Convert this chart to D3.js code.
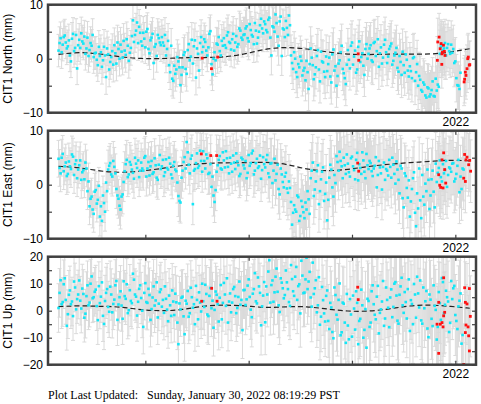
<!DOCTYPE html>
<html>
<head>
<meta charset="utf-8">
<script src="https://cdn.jsdelivr.net/npm/d3@7"></script>
<style>
  body { margin: 0; background: #fff; }
  svg { display: block; }
</style>
</head>
<body>
<svg id="chart" width="481" height="404"></svg>
<script>
// daily-ish solutions: set A every 0.02 yr from tStart, set B offset by half a step
const tStart = 2018.16, tStep = 0.02;

const northVals = [
  1.5, 3.8, 2.6, 4.3, 1.9, 3.4, -0.5, 4.6, 2.0, -1.8,
  3.5, 4.7, 2.8, 0.9, 3.9, 1.6, 2.4, 0.3, 1.1, -1.2,
  0.5, -1.5, 2.2, -3.4, 0.8, -0.6, 1.4, 2.5, -0.9, 1.8,
  2.6, 0.2, 1.5, 3.6, -0.4, 2.0, 7.1, 4.4, 6.7, 5.9,
  3.2, 4.8, 2.1, 5.5, 1.0, 3.9, -0.8, 2.7, 4.4, 3.0,
  4.0, 2.4, 0.6, 3.3, -2.5, -3.7, -1.3, -2.0, -0.5, -4.9,
  -1.6, 1.2, -2.8, 2.7, 0.4, -0.9, 3.4, 1.9, -2.2, 4.0,
  2.2, 3.1, 0.6, 4.6, -1.0, 0.0, -0.3, 2.6, 1.4, 3.3,
  3.8, 2.0, 4.9, 2.9, 3.6, 1.5, 4.2, 2.7, 5.2, 3.5,
  4.5, 6.0, 3.2, 5.3, 4.1, 6.6, 2.8, 5.0, 7.4, 4.7,
  6.4, 4.9, 7.6, 0.6, 5.8, 8.2, 4.1, 6.9, 0.5, 5.4,
  7.0, 4.4, 6.2, -0.8, 1.2, -2.5, -1.0, 0.4, -3.1, -1.7,
  -0.4, -5.6, 1.9, -1.2, -2.9, 0.5, -2.0, 1.3, -0.7, -3.4,
  -2.3, 0.2, -4.4, 1.7, -1.4, -3.2, -0.3, 2.4, -2.7, -4.7,
  1.6, -1.8, 3.0, 0.4, -2.6, 2.2, -0.6, 1.0, -3.0, 2.7,
  0.9, 2.5, -0.6, 3.1, 1.4, -1.5, 2.1, 0.2, 3.5, -0.8,
  1.8, 2.8, -0.4, 1.1, -1.7, 0.5, -3.0, -1.2, 0.8, -2.2,
  -1.4, -3.6, 0.3, -2.5, -5.0, -3.9, -6.1, -4.8, -7.2, -5.5,
  -6.6, -4.2, -7.0, -5.9, -5.2, 2.2, 1.5, 2.9, 2.0, 1.4,
  2.6, 1.8, -0.5, -4.9, -5.6
];
const northVals2 = [
  2.9, 1.2, 4.0, 3.0, 2.3, 0.6, 3.7, 1.4, 4.4, 2.5,
  2.0, 3.2, 4.1, 1.9, 0.5, 2.9, 4.4, 1.0, -0.2, 2.2,
  1.2, -0.3, 0.6, 1.9, -2.0, 0.3, -1.1, 1.0, 3.0, 0.0,
  1.3, 3.3, 0.7, 2.4, 1.1, 4.2, 3.1, 5.2, 2.9, 4.8,
  2.4, 3.7, 5.0, 1.8, 3.4, 4.6, 2.2, 0.5, 3.8, 2.5,
  3.0, 4.4, 1.8, -1.2, 2.4, -4.1, -2.8, 0.3, -1.6, -3.0,
  0.7, -1.9, 1.6, -0.3, 3.5, 2.3, -3.5, 0.9, 2.9, 1.2,
  3.6, 1.5, 2.1, 5.1, -2.9, 1.2, 2.8, 4.0, 0.6, 2.4,
  2.5, 4.3, 3.1, 1.7, 4.6, 3.0, 2.2, 5.6, 3.9, 4.4,
  5.6, 3.8, 6.4, 4.4, 2.7, 5.2, 3.9, 6.2, 5.6, 6.9,
  5.3, 7.2, 3.9, 6.0, 5.0, 6.6, 2.4, 7.8, 5.6, 4.0,
  5.7, 8.0, 0.6, -1.9, 0.0, -3.4, -1.6, -0.4, -2.2, -4.0,
  -2.5, -1.0, 0.2, -3.8, -1.6, 1.6, -4.2, -0.5, -2.4, 0.4,
  -1.0, -3.3, 0.8, -2.2, -5.0, -0.9, 1.2, -1.9, -3.6, -1.1,
  -0.2, 2.4, -1.1, 1.5, -2.0, 3.2, 0.3, -1.3, 1.8, 0.0,
  1.9, -0.3, 2.9, 0.5, 3.6, 1.0, -0.9, 2.6, 1.2, 0.4,
  2.3, -1.1, 0.6, 2.0, -2.4, -0.6, 1.3, -2.6, -0.2, -3.3,
  -2.3, 0.1, -4.1, -1.0, -3.2, -5.8, -4.4, -6.8, -5.3, -7.0,
  -5.8, -6.9, -3.7, -4.8, 0.9, 2.5, 1.9, 0.6, 2.7, 0.9,
  1.1, -0.8, -3.6, -5.0, -2.6
];
const eastVals = [
  4.8, 2.1, 5.7, 3.4, 1.6, 4.3, 2.9, 5.2, 3.8, 1.2,
  3.6, 0.9, 2.7, 4.1, -1.2, -4.0, -2.2, -5.4, -1.0, -2.8,
  -5.9, -6.7, -3.4, 0.4, 2.8, 4.0, 1.5, 3.3, -0.8, -2.6,
  -4.6, -1.8, 2.5, 4.6, 1.9, 3.7, 2.2, 5.0, 3.1, 1.4,
  4.1, 2.6, 5.3, 3.0, 1.7, 4.4, 2.3, 3.6, 0.9, 5.5,
  3.4, 1.6, 4.7, 2.8, 3.9, 1.2, 4.2, 2.5, -2.1, -3.3,
  2.6, 5.1, 7.9, 3.7, 4.8, -3.6, 2.9, 5.8, 3.5, 4.4,
  6.2, 3.0, 4.9, 2.2, -0.4, -2.0, -1.0, 3.6, 5.3, 2.8,
  4.5, 6.2, 3.3, 5.0, 2.4, 4.1, 5.8, 3.6, 2.0, 4.7,
  3.0, 1.2, 5.5, 4.0, 6.3, 2.6, 4.8, 3.4, 1.1, 5.1,
  3.2, 5.5, 1.4, 4.0, 2.6, 0.8, 3.7, -1.8, 1.9, -0.5,
  2.2, -1.5, -0.6, -7.4, -3.8, -5.0, -2.3, -5.8, -4.1, -6.2,
  -4.6, -2.7, 1.2, 4.1, -0.9, 2.5, -3.6, 1.0, 3.2, -1.7,
  -6.6, 1.3, 2.8, -2.2, 0.3, 4.2, 6.1, 3.4, 5.0, 2.0,
  3.9, 1.5, 5.2, 2.7, 4.6, 0.8, 3.1, 6.0, 2.4, 5.7,
  2.9, 4.0, 1.6, 3.5, -0.5, 4.4, 2.1, 3.3, 0.9, 2.6,
  4.6, 1.3, 3.7, 0.2, 2.8, -1.6, 3.0, -4.2, 1.6, -2.4,
  -5.9, -0.8, 2.3, -7.7, -4.4, -2.9, 1.8, -3.7, -1.2, 0.9,
  -2.0, 2.6, -4.2, 0.5, 3.1, 1.4, 3.8, 2.7, -0.4, 3.2,
  2.4, 4.0, 1.1, 3.5, -1.4, -0.8, 2.8
];
const eastVals2 = [
  3.1, 5.0, 2.5, 4.1, 2.0, 3.4, 5.6, 1.8, 4.5, 2.8,
  4.5, 2.3, 1.0, 3.0, 0.6, -2.6, -4.6, -1.3, -3.5, -0.2,
  -4.0, -2.0, -5.0, -1.2, 3.5, 1.9, 4.4, 2.1, -2.0, -3.9,
  -2.2, 0.5, 3.8, 1.4, 4.2, 2.8, 1.1, 3.9, 4.5, 2.6,
  3.0, 5.0, 1.5, 4.2, 3.4, 2.0, 4.9, 1.3, 3.7, 2.9,
  4.6, 2.3, 3.1, 5.0, 1.9, 3.5, 2.8, 0.4, -3.0, 1.3,
  4.2, 3.0, 6.0, 2.1, 5.4, 2.6, 4.0, 3.1, 6.3, 2.4,
  4.4, 5.6, 2.0, 3.8, 1.5, -3.2, 2.4, 4.6, 3.0, 6.0,
  3.2, 4.9, 2.1, 3.9, 5.4, 2.9, 4.3, 1.6, 5.0, 3.6,
  4.4, 2.2, 3.5, 5.8, 1.9, 4.0, 3.1, 5.4, 2.7, 3.8,
  4.6, 2.1, 3.9, 0.3, 4.8, 2.0, -0.8, 3.0, 0.5, 1.5,
  -0.7, 0.6, -3.2, -5.2, -4.6, -2.0, -6.7, -3.0, -5.1, -3.3,
  -1.2, -5.4, 2.6, -2.1, 0.6, 3.6, -1.2, 2.4, -3.0, 0.4,
  -2.8, 3.7, -0.5, 1.8, 5.3, 2.6, 4.4, 1.2, 3.6, 5.6,
  2.3, 4.9, 3.4, 1.0, 5.9, 3.8, 2.0, 4.5, 1.2, 3.6,
  4.4, 2.5, 3.0, 5.1, 1.8, 3.2, -0.9, 4.1, 2.9, 1.7,
  3.3, 5.0, 2.0, 4.3, 0.9, 3.5, -2.5, 2.1, -0.6, 0.8,
  -3.1, 1.2, -5.2, -1.6, 3.0, -6.2, -2.2, 0.2, 2.8, -4.5,
  1.0, -1.3, 3.9, 2.2, 4.5, 0.6, 2.1, 4.4, 1.8, 3.0,
  3.9, 0.6, 2.0, 4.6, 1.5, 3.0
];
const upVals = [
  1.0, 11.3, 3.2, 12.0, -5.6, 5.9, 2.4, -2.0, 8.6, 4.3,
  11.2, 0.8, 6.2, -1.1, 9.4, 3.0, 12.7, 5.0, 7.8, -3.5,
  2.8, 10.5, -4.9, 6.6, 1.4, 8.9, -0.6, 4.1, 11.0, 2.3,
  7.2, -3.0, 5.4, 9.8, 0.2, 3.6, 13.7, 6.0, -1.8, 8.1,
  4.7, -6.0, 10.2, 2.9, 5.8, 0.6, 9.0, 3.8, -2.5, 6.9,
  1.5, -0.8, 4.4, -3.9, 2.0, 7.5, -1.6, 3.1, -12.4, 0.5,
  5.2, -8.7, 2.6, -2.2, 8.5, 1.1, -5.0, 4.0, 6.8, -0.3,
  3.5, 9.6, -1.4, 5.5, 0.9, -6.3, 7.1, 2.4, 4.8, -3.2,
  10.3, 1.8, -4.4, 6.4, 3.0, 8.8, -0.9, 5.1, 2.2, -7.2,
  7.7, 4.2, 11.6, 0.4, 6.3, 13.9, 2.7, 9.0, -5.4, 5.6,
  -4.3, 6.0, 18.7, 9.5, 3.3, 12.6, 7.0, -0.5, 10.4, 4.6,
  14.9, 8.0, 1.8, 11.7, 5.5, 16.2, 9.1, -1.0, 13.0, 6.7,
  19.6, 10.8, 4.9, 17.8, 8.3, -0.6, 12.4, -2.2, 3.9, -4.0,
  7.5, -6.8, 1.2, -10.2, 5.8, -3.3, 10.1, -8.0, 2.6, -11.9,
  -5.5, 4.3, -9.6, 0.8, 7.2, -12.4, -3.0, 2.0, -7.1, -13.7,
  3.6, -4.4, 9.4, -1.5, 5.2, -8.4, 0.5, 11.0, -2.9, 4.0,
  -6.1, 7.9, 1.4, 10.6, -3.7, 5.9, 12.2, -0.8, 3.2, 8.0,
  -7.5, 2.5, 9.9, -2.6, 6.4, 11.2, -4.8, 0.9, 7.3, -9.8,
  4.1, -5.7, 1.8, -10.7, 6.9, -3.4, 10.6, 2.2, 5.0, -7.9,
  11.0, 8.3, -1.6, -6.8, 3.7, -12.2
];
const upVals2 = [
  6.6, 2.4, 9.8, 4.0, -1.3, 7.5, 3.4, 10.8, 0.5, 6.0,
  3.7, 8.2, -2.6, 5.4, 2.0, 10.0, 4.6, 7.0, 1.7, 9.1,
  5.2, -1.9, 3.6, 8.0, -0.4, 6.0, 2.5, 9.4, -3.4, 5.0,
  1.9, 10.9, 4.4, -0.9, 7.6, 2.8, 11.5, 5.2, 3.3, 9.4,
  0.0, 6.6, 3.2, 8.1, -3.4, 4.9, 1.9, 10.5, 2.6, 7.9,
  4.0, 9.0, 0.4, 5.6, -1.9, 3.4, 6.3, -4.4, 2.7, 4.8,
  -2.1, 3.7, 7.3, -0.9, 5.0, 2.4, 9.2, -3.2, 3.0, 10.0,
  1.4, 6.2, -2.0, 8.4, 3.7, 0.3, 5.9, -4.0, 9.5, 2.9,
  6.0, 12.0, 3.4, -0.6, 8.0, 5.4, 1.0, 10.8, 4.0, 7.6,
  2.1, 9.3, 5.1, -2.4, 8.0, 3.5, 12.3, 6.6, 1.6, 10.6,
  9.0, 14.5, 3.0, 11.2, 6.8, 15.6, 2.0, 12.0, 8.3, 5.8,
  10.5, 3.2, 16.9, 7.2, 12.6, 4.0, 9.8, 18.5, 6.5, 11.6,
  8.0, 14.4, 1.5, 6.2, 11.3, 2.0, -5.2, 8.8, -1.0, 5.5,
  -3.8, 2.9, -7.9, 8.6, -1.5, 4.0, -9.1, 3.0, -4.4, 6.2,
  -10.6, -1.4, 5.6, -7.0, 2.9, -3.8, 7.8, -10.0, 0.6, 4.4,
  -6.0, 7.2, 2.4, -3.2, 9.2, -0.8, 3.4, -5.6, 8.6, 1.1,
  4.9, -2.4, 10.0, 5.6, -4.8, 9.0, 2.0, 6.9, -2.9, 11.6,
  3.9, -5.0, 6.0, 12.6, 1.2, -3.6, 8.6, 3.5, -6.6, 6.0,
  -3.0, 9.4, 0.3, -6.0, 2.8, 12.1, -1.0, 7.4, 3.4, -4.5,
  4.3, 9.2, -3.8, 1.6, 6.4, -9.0
];

// 1-sigma per block of 10 solutions (mm)
const northSig = [3.0, 3.0, 3.2, 3.2, 3.0, 3.2, 3.2, 3.0, 3.2, 3.4, 3.6, 3.8, 4.0, 4.0, 4.0, 4.2, 4.2, 4.4, 4.4, 4.4];
const eastSig  = [3.4, 3.4, 3.6, 3.6, 3.6, 3.8, 3.8, 3.8, 4.0, 4.2, 4.6, 5.0, 5.2, 5.4, 5.6, 5.6, 5.6, 5.8, 5.8, 5.8];
const upSig    = [9.0, 9.0, 9.5, 9.5, 10, 10, 10, 10.5, 10.5, 11, 12, 12.5, 13, 13.5, 14, 14, 14.5, 14.5, 15, 15];

// rapid solutions (red)
const northRedT = [2019.55, 2019.64, 2019.70, 2021.06, 2021.065, 2021.826, 2021.83, 2021.843, 2021.853, 2021.862, 2021.869, 2021.87, 2021.875, 2021.885, 2021.894, 2021.90,
  2022.085, 2022.09, 2022.097, 2022.103, 2022.113, 2022.12, 2022.125, 2022.135, 2022.14];
const northRedV = [0.1, -1.85, 0.3, 0.9, -0.3, -0.3, 3.1, 4.0, 1.85, 2.8, -1.05, 0.9, 1.2, 2.5, 1.35, 0.6,
  -4.3, -3.8, -2.5, -3.1, -1.85, 0.0, 0.3, -1.2, -1.1];
const eastRedT = [2019.542, 2019.633, 2019.69, 2021.055, 2021.065, 2021.839, 2021.849, 2021.858, 2021.871, 2021.881, 2021.887, 2021.897, 2021.907,
  2022.081, 2022.09, 2022.097, 2022.103, 2022.113, 2022.129, 2022.139, 2022.148];
const eastRedV = [5.7, 5.4, 5.4, 4.0, 2.5, 1.85, -0.1, -0.5, 4.6, -0.6, 5.9, 2.8, 0.3,
  1.2, 5.6, 0.6, 4.6, 5.1, 3.7, 4.5, 2.5];
const upRedT = [2019.545, 2019.642, 2019.694, 2021.055, 2021.06, 2021.823, 2021.839, 2021.839, 2021.855, 2021.871, 2021.881, 2021.887, 2021.887, 2021.897,
  2022.081, 2022.09, 2022.097, 2022.097, 2022.103, 2022.113, 2022.123, 2022.129, 2022.136, 2022.136, 2022.145];
const upRedV = [3.5, 8.3, 3.5, 8.7, 4.1, -5.0, 3.1, -15.8, -5.0, -4.4, -6.0, 12.2, -1.9, -0.6,
  -19.9, 8.5, 3.1, -8.1, -5.3, 2.5, -6.0, -9.3, 8.2, -14.9, -2.1];

// model (dashed)
const modelT = [2018.16, 2018.36, 2018.56, 2018.76, 2018.96, 2019.16, 2019.36, 2019.56, 2019.76, 2019.96,
  2020.16, 2020.36, 2020.56, 2020.76, 2020.96, 2021.16, 2021.36, 2021.56, 2021.76, 2021.96, 2022.14];
const northModel = [0.8, 1.23, 0.93, 0.3, 0.0, 0.0, 0.2, 0.2, 0.3, 0.8, 1.85, 2.16, 1.85, 1.23, 0.8, 0.74, 0.86, 0.86, 0.8, 1.23, 1.85];
const eastModel  = [3.4, 3.2, 2.5, 2.2, 2.5, 3.0, 3.6, 3.95, 4.07, 4.07, 4.2, 3.9, 2.8, 2.5, 2.8, 3.4, 3.8, 4.1, 4.3, 4.6, 4.4];
const upModel    = [1.5, 1.9, 1.6, 1.5, 0.25, -0.1, 0.25, 1.9, 2.1, 1.9, 1.0, 1.5, 1.6, 0.6, -0.25, -0.25, 0.6, 1.9, 2.2, 1.6, 0.9];

const yearTicks = [2019, 2020, 2021, 2022];

const panels = [
  { label: "CIT1 North (mm)", vals: northVals, vals2: northVals2, sig: northSig, redT: northRedT, redV: northRedV, model: northModel, dom: [-10, 10], top: 4.7 },
  { label: "CIT1 East (mm)",  vals: eastVals,  vals2: eastVals2,  sig: eastSig,  redT: eastRedT,  redV: eastRedV,  model: eastModel,  dom: [-10, 10], top: 130.7 },
  { label: "CIT1 Up (mm)",    vals: upVals,    vals2: upVals2,    sig: upSig,    redT: upRedT,    redV: upRedV,    model: upModel,    dom: [-20, 20], top: 256.7 }
];

const left = 48, right = 476, ph = 108;
const svg = d3.select("#chart");
const x = d3.scaleLinear().domain([2018.058, 2022.2]).range([left, right]);

const errCol = "#dadada", cyan = "#14e6f6", red = "#ff1010", frameCol = "#404040";

panels.forEach((p, k) => {
  const y = d3.scaleLinear().domain(p.dom).range([p.top + ph, p.top]);
  const g = svg.append("g");

  const clipId = "clip" + k;
  svg.append("clipPath").attr("id", clipId)
    .append("rect").attr("x", left).attr("y", p.top).attr("width", right - left).attr("height", ph);

  const blockOf = t => Math.max(0, Math.min(p.sig.length - 1, Math.floor((t - tStart) / tStep / 10)));
  const pts = [];
  p.vals.forEach((v, i) => { const t = tStart + i * tStep; pts.push({ t, v, s: p.sig[blockOf(t)], red: false }); });
  p.vals2.forEach((v, i) => { const t = tStart + (i + 0.5) * tStep; pts.push({ t, v, s: p.sig[blockOf(t)], red: false }); });
  p.redT.forEach((t, i) => pts.push({ t, v: p.redV[i], s: p.sig[blockOf(t)], red: true }));

  const plot = g.append("g").attr("clip-path", `url(#${clipId})`);

  // error bars
  const eb = plot.append("g").attr("stroke", errCol).attr("stroke-width", 1);
  eb.selectAll("line.v").data(pts).join("line")
    .attr("x1", d => x(d.t)).attr("x2", d => x(d.t))
    .attr("y1", d => y(d.v - d.s)).attr("y2", d => y(d.v + d.s));
  eb.selectAll("line.hi").data(pts).join("line")
    .attr("x1", d => x(d.t) - 2).attr("x2", d => x(d.t) + 2)
    .attr("y1", d => y(d.v + d.s)).attr("y2", d => y(d.v + d.s));
  eb.selectAll("line.lo").data(pts).join("line")
    .attr("x1", d => x(d.t) - 2).attr("x2", d => x(d.t) + 2)
    .attr("y1", d => y(d.v - d.s)).attr("y2", d => y(d.v - d.s));

  // model line
  const line = d3.line().x(d => x(d[0])).y(d => y(d[1])).curve(d3.curveBasis);
  plot.append("path")
    .datum(modelT.map((t, i) => [t, p.model[i]]))
    .attr("d", line)
    .attr("fill", "none")
    .attr("stroke", "#222")
    .attr("stroke-width", 1.2)
    .attr("stroke-dasharray", "5,3");

  // points
  plot.selectAll("rect.pt").data(pts.filter(d => !d.red)).join("rect")
    .attr("x", d => x(d.t) - 1.3).attr("y", d => y(d.v) - 1.3)
    .attr("width", 2.6).attr("height", 2.6).attr("fill", cyan);
  plot.selectAll("rect.rpt").data(pts.filter(d => d.red)).join("rect")
    .attr("x", d => x(d.t) - 1.4).attr("y", d => y(d.v) - 1.4)
    .attr("width", 2.8).attr("height", 2.8).attr("fill", red);

  // axes: ticks pointing inward
  const yt = d3.range(p.dom[0], p.dom[1] + 0.1, 5);
  const ax = g.append("g").attr("font-family", "'Liberation Sans', Arial, sans-serif");
  const la = ax.append("g").attr("transform", `translate(${left},0)`)
    .call(d3.axisLeft(y).tickValues(yt).tickSize(-4).tickPadding(5)
      .tickFormat(v => v % 10 === 0 ? String(v).replace("-", "\u2212") : ""));
  const ra = ax.append("g").attr("transform", `translate(${right},0)`)
    .call(d3.axisRight(y).tickValues(yt).tickSize(-4).tickFormat(""));
  const ba = ax.append("g").attr("transform", `translate(0,${p.top + ph})`)
    .call(d3.axisBottom(x).tickValues(yearTicks).tickSize(-4).tickPadding(5)
      .tickFormat(v => v === 2022 ? "2022" : ""));
  const ta = ax.append("g").attr("transform", `translate(0,${p.top})`)
    .call(d3.axisTop(x).tickValues(yearTicks).tickSize(-4).tickFormat(""));
  [la, ra, ba, ta].forEach(a => {
    a.select(".domain").remove();
    a.selectAll(".tick line").attr("stroke", frameCol).attr("stroke-width", 1.2);
    a.selectAll(".tick text").attr("font-size", 12).attr("fill", "#000");
  });

  // frame
  g.append("rect")
    .attr("x", left).attr("y", p.top).attr("width", right - left).attr("height", ph)
    .attr("fill", "none").attr("stroke", frameCol).attr("stroke-width", 2.5);

  // y label
  g.append("text")
    .attr("transform", `translate(12,${p.top + ph / 2}) rotate(-90)`)
    .attr("text-anchor", "middle")
    .attr("font-family", "'Liberation Sans', Arial, sans-serif")
    .attr("font-size", 12)
    .text(p.label);
});

svg.append("text")
  .attr("x", 48).attr("y", 399)
  .attr("font-family", "'Liberation Serif', 'Times New Roman', serif")
  .attr("font-size", 12)
  .style("white-space", "pre")
  .text("Plot Last Updated:   Sunday, January 30, 2022 08:19:29 PST");
</script>
</body>
</html>
